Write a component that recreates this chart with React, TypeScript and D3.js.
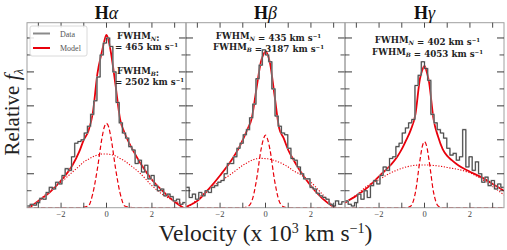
import React from "react";
import * as d3 from "d3";

// velocity grid (10^3 km/s)
const binEdges = d3.range(51).map((i) => -3.5 + i * 0.14);
const modelV = [-3.5, -3, -2.5, -2, -1.5, -1.2, -1, -0.8, -0.6, -0.4, -0.2, -0.1, 0, 0.1, 0.2, 0.4, 0.6, 0.8, 1, 1.2, 1.5, 2, 2.5, 3, 3.5];
const xTicks = [-3, -2, -1, 0, 1, 2, 3];
const xLabels = [-2, 0, 2];
const yMajor = [0.2, 0.4, 0.6, 0.8, 1.0];
const yMinor = [0.1, 0.3, 0.5, 0.7, 0.9];

// H alpha
const haData = [0.01, 0.02, 0.015, 0.03, 0.055, 0.05, 0.09, 0.12, 0.11, 0.15, 0.14, 0.19, 0.23, 0.22, 0.3, 0.38, 0.39, 0.4, 0.44, 0.48, 0.55, 0.63, 0.77, 0.9, 0.97, 1.0, 0.95, 0.8, 0.62, 0.5, 0.44, 0.41, 0.36, 0.34, 0.26, 0.28, 0.21, 0.25, 0.17, 0.19, 0.13, 0.1, 0.11, 0.07, 0.08, 0.065, 0.04, 0.05, 0.02, 0.03];
const haModel = [-0.01, 0.04, 0.09, 0.16, 0.25, 0.33, 0.4, 0.45, 0.56, 0.79, 0.92, 0.98, 1.018, 0.98, 0.91, 0.72, 0.52, 0.44, 0.38, 0.33, 0.26, 0.165, 0.095, 0.035, -0.01];
const haNarrow = [0, 0, 0, 0, 0, 0, 0.003, 0.01, 0.085, 0.23, 0.41, 0.474, 0.497, 0.474, 0.41, 0.23, 0.085, 0.01, 0.003, 0, 0, 0, 0, 0, 0];
const haBroad = [-0.005, 0.04, 0.1, 0.15, 0.21, 0.245, 0.27, 0.285, 0.3, 0.31, 0.316, 0.316, 0.316, 0.315, 0.313, 0.305, 0.29, 0.275, 0.255, 0.235, 0.2, 0.13, 0.075, 0.04, 0.017];

// H beta
const hbData = [0.12, 0.06, 0.08, 0.05, 0.09, 0.07, 0.1, 0.09, 0.12, 0.13, 0.15, 0.16, 0.2, 0.26, 0.26, 0.3, 0.35, 0.38, 0.43, 0.46, 0.53, 0.61, 0.76, 0.84, 0.93, 0.9, 0.86, 0.7, 0.54, 0.48, 0.44, 0.43, 0.35, 0.29, 0.28, 0.24, 0.2, 0.17, 0.17, 0.12, 0.11, 0.085, 0.07, 0.06, 0.05, 0.02, 0.01, 0.04, 0.02, 0.035];
const hbModel = [0.005, 0.04, 0.11, 0.19, 0.28, 0.345, 0.4, 0.46, 0.53, 0.7, 0.86, 0.9, 0.919, 0.9, 0.85, 0.66, 0.47, 0.41, 0.34, 0.29, 0.222, 0.128, 0.055, 0.005, -0.02];
const hbNarrow = [0, 0, 0, 0, 0, 0, 0, 0.005, 0.04, 0.16, 0.34, 0.4, 0.428, 0.4, 0.34, 0.16, 0.04, 0.005, 0, 0, 0, 0, 0, 0, 0];
const hbBroad = [-0.01, 0.05, 0.11, 0.155, 0.2, 0.23, 0.25, 0.265, 0.28, 0.288, 0.291, 0.29, 0.289, 0.288, 0.285, 0.278, 0.268, 0.255, 0.24, 0.22, 0.198, 0.15, 0.08, 0.01, -0.03];

// H gamma
const hgData = [0.04, 0.02, 0.01, 0.03, 0.08, 0.05, 0.1, 0.06, 0.13, 0.16, 0.14, 0.19, 0.24, 0.22, 0.29, 0.3, 0.36, 0.38, 0.44, 0.47, 0.5, 0.52, 0.72, 0.78, 0.86, 0.82, 0.75, 0.55, 0.5, 0.46, 0.44, 0.41, 0.35, 0.31, 0.32, 0.28, 0.3, 0.46, 0.24, 0.3, 0.22, 0.27, 0.2, 0.15, 0.18, 0.13, 0.16, 0.11, 0.14, 0.12];
const hgModel = [0.03, 0.07, 0.12, 0.185, 0.25, 0.3, 0.345, 0.4, 0.46, 0.55, 0.76, 0.81, 0.835, 0.8, 0.74, 0.52, 0.418, 0.345, 0.305, 0.28, 0.248, 0.212, 0.18, 0.14, 0.1];
const hgNarrow = [0, 0, 0, 0, 0, 0, 0, 0, 0.01, 0.09, 0.28, 0.36, 0.389, 0.36, 0.28, 0.09, 0.01, 0, 0, 0, 0, 0, 0, 0, 0];
const hgBroad = [0.03, 0.075, 0.13, 0.165, 0.205, 0.222, 0.232, 0.24, 0.246, 0.25, 0.252, 0.252, 0.252, 0.252, 0.251, 0.249, 0.246, 0.242, 0.237, 0.232, 0.225, 0.205, 0.17, 0.125, 0.075];

const panels = [
  { greek: "α", data: haData, model: haModel, narrow: haNarrow, broad: haBroad, fwhmN: "465", fwhmB: "2502", stacked: true },
  { greek: "β", data: hbData, model: hbModel, narrow: hbNarrow, broad: hbBroad, fwhmN: "435", fwhmB: "3187", stacked: false },
  { greek: "γ", data: hgData, model: hgModel, narrow: hgNarrow, broad: hgBroad, fwhmN: "402", fwhmB: "4053", stacked: false },
];

const W = 507;
const H = 250;
const left = 27;
const top = 22.7;
const pw = 159;
const ph = 185;
const serif = "'Liberation Serif', 'DejaVu Serif', serif";
const boldSerif = "'DejaVu Serif', serif";
const red = "#e8000b";

const y = d3.scaleLinear().domain([0, 1.09]).range([top + ph, top]);

const Sub = ({ t }: { t: string }) => (
  <>
    <tspan dy={2} fontSize={6} fontStyle="italic">{t}</tspan>
    <tspan dy={-2}></tspan>
  </>
);
const Sup = () => (
  <tspan dy={-3.5} fontSize={5.5}>−1</tspan>
);

const Panel = ({ p, i }: { p: any; i: number }) => {
  const x0 = left + i * pw;
  const x = d3.scaleLinear().domain([-3.5, 3.5]).range([x0, x0 + pw]);
  const curve = d3.line<number>().x((_, k) => x(modelV[k])).y((d) => y(d)).curve(d3.curveMonotoneX);
  const stepPts = [...p.data, p.data[p.data.length - 1]];
  const step = d3.line<number>().x((_, k) => x(binEdges[k])).y((d) => y(d)).curve(d3.curveStepAfter);
  const cx = x0 + pw / 2;
  const clipId = `clip${i}`;
  const b = top + ph;
  return (
    <g>
      <clipPath id={clipId}>
        <rect x={x0} y={top} width={pw} height={ph} />
      </clipPath>
      <g clipPath={`url(#${clipId})`}>
        <path d={curve(p.broad) || ""} fill="none" stroke={red} strokeWidth={1.1} strokeDasharray="1.2,1.6" />
        <path d={curve(p.narrow) || ""} fill="none" stroke={red} strokeWidth={1.2} strokeDasharray="4.5,2.5" />
        <path d={curve(p.model) || ""} fill="none" stroke={red} strokeWidth={1.8} />
        <path d={step(stepPts) || ""} fill="none" stroke="#b0b0b0" strokeWidth={1.6} />
        <path d={step(stepPts) || ""} fill="none" stroke="#222" strokeWidth={0.7} />
      </g>
      {/* frame */}
      <rect x={x0} y={top} width={pw} height={ph} fill="none" stroke="#a0a0a0" strokeWidth={1} />
      {xTicks.map((t) => (
        <g key={`xt${t}`} stroke="#333" strokeWidth={0.9}>
          <line x1={x(t)} x2={x(t)} y1={b} y2={b - 5} />
          <line x1={x(t)} x2={x(t)} y1={top} y2={top + 5} />
        </g>
      ))}
      {xLabels.map((t) => (
        <text key={`xl${t}`} x={x(t)} y={b + 9} fontSize={8.5} fontFamily={serif} fill="#444" textAnchor="middle">
          {t < 0 ? `−${-t}` : `${t}`}
        </text>
      ))}
      {yMajor.map((t) => (
        <g key={`ym${t}`} stroke="#222" strokeWidth={0.9}>
          <line x1={x0} x2={x0 + 7} y1={y(t)} y2={y(t)} />
          <line x1={x0 + pw} x2={x0 + pw - 7} y1={y(t)} y2={y(t)} />
        </g>
      ))}
      {yMinor.map((t) => (
        <g key={`yn${t}`} stroke="#222" strokeWidth={0.8}>
          <line x1={x0} x2={x0 + 4.5} y1={y(t)} y2={y(t)} />
          <line x1={x0 + pw} x2={x0 + pw - 4.5} y1={y(t)} y2={y(t)} />
        </g>
      ))}
      <text x={cx} y={19} textAnchor="middle" fontFamily={serif} fontSize={18} fill="#111">
        <tspan fontWeight="bold">H</tspan>
        <tspan fontStyle="italic">{p.greek}</tspan>
      </text>
      {p.stacked ? (
        <g fontFamily={boldSerif} fontSize={8.7} fontWeight="bold" fill="#222">
          <text x={117} y={39}>FWHM<Sub t="N" />:</text>
          <text x={115} y={50}>= {p.fwhmN} km s<Sup /></text>
          <text x={117} y={74}>FWHM<Sub t="B" />:</text>
          <text x={115} y={85}>= {p.fwhmB} km s<Sup /></text>
        </g>
      ) : (
        <g fontFamily={boldSerif} fontSize={8.7} fontWeight="bold" fill="#222" textAnchor="middle">
          <text x={cx + 3} y={i === 1 ? 39 : 43}>FWHM<Sub t="N" /> = {p.fwhmN} km s<Sup /></text>
          <text x={cx + 3} y={i === 1 ? 50 : 55}>FWHM<Sub t="B" /> = {p.fwhmB} km s<Sup /></text>
        </g>
      )}
    </g>
  );
};

export default function App() {
  return (
    <svg width={W} height={H} style={{ position: "absolute", left: 0, top: 0, background: "#fff" }}>
      <rect width={W} height={H} fill="#fff" />
      {panels.map((p, i) => (
        <Panel key={i} p={p} i={i} />
      ))}
      {/* legend */}
      <g>
        <rect x={30} y={26} width={57} height={30} rx={2} fill="#fff" fillOpacity={0.85} stroke="#d0d0d0" strokeWidth={0.8} />
        <line x1={33} x2={50} y1={33.5} y2={33.5} stroke="#8a8a8a" strokeWidth={2} />
        <line x1={33} x2={50} y1={48} y2={48} stroke={red} strokeWidth={2} />
        <text x={60} y={36.5} fontFamily={serif} fontSize={8} fill="#555">Data</text>
        <text x={60} y={51} fontFamily={serif} fontSize={8} fill="#555">Model</text>
      </g>
      <text transform={`translate(19,${top + ph / 2 - 3}) rotate(-90)`} textAnchor="middle" fontFamily={serif} fontSize={21} fill="#222">
        Relative <tspan fontStyle="italic">f</tspan>
        <tspan dy={4} fontSize={13} fontStyle="italic">λ</tspan>
      </text>
      <text x={left + (3 * pw) / 2} y={241} textAnchor="middle" fontFamily={serif} fontSize={23.5} fill="#222">
        Velocity (x 10<tspan dy={-8} fontSize={14}>3</tspan>
        <tspan dy={8}> km s</tspan>
        <tspan dy={-8} fontSize={14}>−1</tspan>
        <tspan dy={8}>)</tspan>
      </text>
    </svg>
  );
}
